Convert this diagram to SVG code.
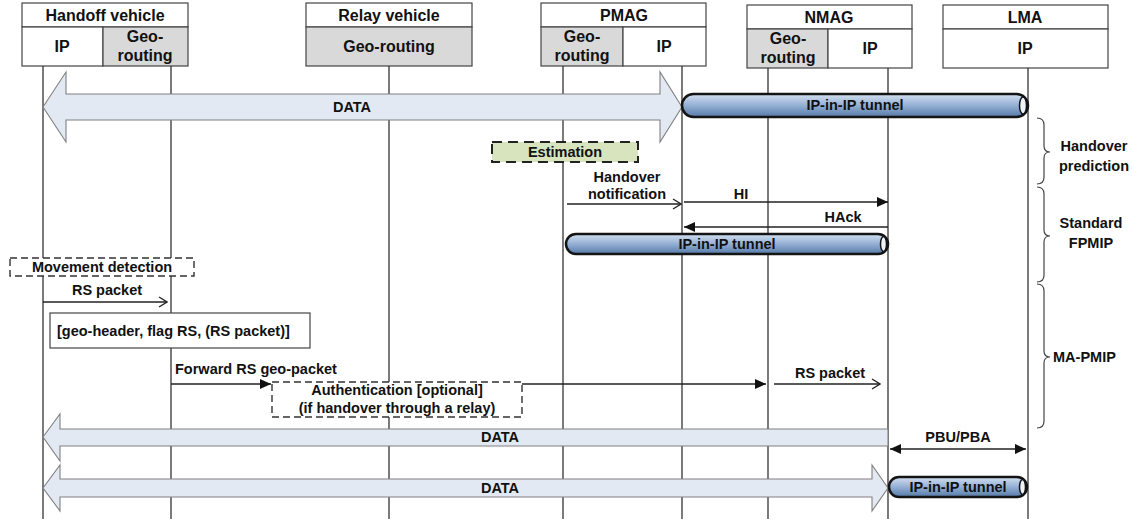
<svg xmlns="http://www.w3.org/2000/svg" width="1133" height="520" viewBox="0 0 1133 520">
  <style>
    text { font-family: "Liberation Sans", Arial, sans-serif; font-weight: bold; fill: #111; }
    .hd { font-size: 16px; text-anchor: middle; }
    .lb { font-size: 14.5px; }
    .c { text-anchor: middle; }
    .box { fill: #fff; stroke: #444; stroke-width: 1.2; }
    .geo { fill: #d9d9d9; stroke: #444; stroke-width: 1.2; }
    .life { stroke: #333; stroke-width: 1.3; fill: none; }
    .data { fill: #e3e9f3; stroke: #808080; stroke-width: 1.1; }
    .tunnel { fill: url(#tube); stroke: #141414; stroke-width: 2.5; }
    .tend { fill: #eef2f9; stroke: #141414; stroke-width: 1.5; }
    .msg { stroke: #222; stroke-width: 1.3; fill: none; }
    .dash { stroke: #333; stroke-width: 1.4; stroke-dasharray: 7 4; }
    .brace { stroke: #444; stroke-width: 1.2; fill: none; }
  </style>
  <defs>
    <linearGradient id="tube" x1="0" y1="0" x2="0" y2="1">
      <stop offset="0" stop-color="#d3e0f1"/>
      <stop offset="0.5" stop-color="#94afd4"/>
      <stop offset="1" stop-color="#557aa8"/>
    </linearGradient>
    <marker id="solid" markerUnits="userSpaceOnUse" markerWidth="12" markerHeight="10" refX="11" refY="5" orient="auto-start-reverse">
      <path d="M0,0 L11,5 L0,10 Z" fill="#111"/>
    </marker>
    <marker id="open" markerUnits="userSpaceOnUse" markerWidth="10" markerHeight="12" refX="9" refY="6" orient="auto">
      <path d="M1,1 L9,6 L1,11" fill="none" stroke="#222" stroke-width="1.3"/>
    </marker>
  </defs>

  <!-- entity headers -->
  <g id="handoff-vehicle">
    <rect class="box" x="22" y="3" width="166" height="24"/>
    <rect class="box" x="22" y="27" width="81" height="39"/>
    <rect class="geo" x="103" y="27" width="85" height="39"/>
    <text class="hd" x="105" y="21">Handoff vehicle</text>
    <text class="hd" x="62" y="52">IP</text>
    <text class="hd" x="145" y="42">Geo-</text>
    <text class="hd" x="145" y="61">routing</text>
  </g>
  <g id="relay-vehicle">
    <rect class="box" x="306" y="3" width="166" height="24"/>
    <rect class="geo" x="306" y="27" width="166" height="39"/>
    <text class="hd" x="389" y="21">Relay vehicle</text>
    <text class="hd" x="389" y="52">Geo-routing</text>
  </g>
  <g id="pmag">
    <rect class="box" x="541" y="3" width="165" height="24"/>
    <rect class="geo" x="541" y="27" width="82" height="39"/>
    <rect class="box" x="623" y="27" width="83" height="39"/>
    <text class="hd" x="624" y="21">PMAG</text>
    <text class="hd" x="582" y="42">Geo-</text>
    <text class="hd" x="582" y="61">routing</text>
    <text class="hd" x="664" y="52">IP</text>
  </g>
  <g id="nmag">
    <rect class="box" x="747" y="5" width="165" height="24"/>
    <rect class="geo" x="747" y="29" width="81" height="39"/>
    <rect class="box" x="828" y="29" width="84" height="39"/>
    <text class="hd" x="829" y="23">NMAG</text>
    <text class="hd" x="788" y="44">Geo-</text>
    <text class="hd" x="788" y="63">routing</text>
    <text class="hd" x="870" y="54">IP</text>
  </g>
  <g id="lma">
    <rect class="box" x="943" y="5" width="165" height="24"/>
    <rect class="box" x="943" y="29" width="165" height="39"/>
    <text class="hd" x="1025" y="23">LMA</text>
    <text class="hd" x="1025" y="54">IP</text>
  </g>

  <!-- lifelines -->
  <g id="lifelines">
    <line class="life" x1="43" y1="66" x2="43" y2="519"/>
    <line class="life" x1="171" y1="66" x2="171" y2="519"/>
    <line class="life" x1="389" y1="66" x2="389" y2="519"/>
    <line class="life" x1="563" y1="66" x2="563" y2="519"/>
    <line class="life" x1="682" y1="66" x2="682" y2="519"/>
    <line class="life" x1="768" y1="68" x2="768" y2="519"/>
    <line class="life" x1="888" y1="68" x2="888" y2="519"/>
    <line class="life" x1="1028" y1="68" x2="1028" y2="519"/>
  </g>

  <g id="connectors">
    <!-- data flows -->
    <path class="data" d="M43,107 L66,72 L66,94 L660,94 L660,72 L682,107 L660,142 L660,120 L66,120 L66,142 Z"/>
    <text class="lb c" x="352" y="112">DATA</text>

    <path class="data" d="M43,437 L60,414 L60,429 L888,429 L888,446 L60,446 L60,461 Z"/>
    <text class="lb c" x="500" y="442">DATA</text>

    <path class="data" d="M43,488 L60,465 L60,479 L872,479 L872,465 L888,488 L872,511 L872,497 L60,497 L60,511 Z"/>
    <text class="lb c" x="500" y="493">DATA</text>

    <!-- tunnels -->
    <rect class="tunnel" x="682" y="94" width="346" height="23" rx="11.5"/>
    <ellipse class="tend" cx="1023" cy="105.5" rx="3.5" ry="8.5"/>
    <text class="lb c" x="855" y="110">IP-in-IP tunnel</text>

    <rect class="tunnel" x="566" y="234" width="322" height="20" rx="10"/>
    <ellipse class="tend" cx="883.5" cy="244" rx="3" ry="7.5"/>
    <text class="lb c" x="727" y="249">IP-in-IP tunnel</text>

    <rect class="tunnel" x="889" y="477" width="138" height="20" rx="10"/>
    <ellipse class="tend" cx="1022.5" cy="487" rx="3" ry="7.5"/>
    <text class="lb c" x="958" y="492">IP-in-IP tunnel</text>

    <!-- handover prediction -->
    <rect x="492" y="142" width="146" height="20" fill="#d7e4bd" stroke="#222" stroke-width="2" stroke-dasharray="10 6"/>
    <text class="lb c" x="565" y="157">Estimation</text>

    <line class="msg" x1="567" y1="204" x2="681" y2="204" marker-end="url(#open)"/>
    <text class="lb c" x="627" y="182">Handover</text>
    <text class="lb c" x="627" y="199">notification</text>

    <line class="msg" x1="684" y1="202" x2="888" y2="202" marker-end="url(#solid)"/>
    <text class="lb c" x="741" y="199">HI</text>

    <line class="msg" x1="888" y1="227" x2="684" y2="227" marker-end="url(#solid)"/>
    <text class="lb c" x="843" y="222">HAck</text>

    <!-- movement detection and RS -->
    <rect x="10" y="258" width="184" height="18" fill="#fff" class="dash"/>
    <text class="lb c" x="102" y="272">Movement detection</text>

    <line class="msg" x1="43" y1="302" x2="167" y2="302" marker-end="url(#open)"/>
    <text class="lb c" x="107" y="295">RS packet</text>

    <rect class="box" x="50" y="313" width="260" height="35" stroke="#222"/>
    <text class="lb" x="57" y="336">[geo-header, flag RS, (RS packet)]</text>

    <line class="msg" x1="171" y1="384" x2="271" y2="384" marker-end="url(#solid)"/>
    <text class="lb" x="175" y="374">Forward RS geo-packet</text>

    <rect x="272" y="382" width="250" height="35" fill="#fff" class="dash"/>
    <text class="lb c" x="397" y="395">Authentication [optional]</text>
    <text class="lb c" x="397" y="413">(if handover through a relay)</text>

    <line class="msg" x1="522" y1="384" x2="766" y2="384" marker-end="url(#solid)"/>

    <line class="msg" x1="774" y1="384" x2="880" y2="384" marker-end="url(#open)"/>
    <text class="lb c" x="830" y="378">RS packet</text>

    <!-- binding -->
    <line class="msg" x1="890" y1="449" x2="1026" y2="449" marker-start="url(#solid)" marker-end="url(#solid)"/>
    <text class="lb c" x="958" y="442">PBU/PBA</text>
  </g>

  <!-- phase braces -->
  <g id="phase-prediction">
    <path class="brace" d="M1037,118 Q1044,118 1044,125 L1044,146 Q1044,152 1050,152 Q1044,152 1044,158 L1044,177 Q1044,184 1037,184"/>
    <text class="lb c" x="1094" y="151">Handover</text>
    <text class="lb c" x="1094" y="171">prediction</text>
  </g>
  <g id="phase-fpmip">
    <path class="brace" d="M1037,187 Q1044,187 1044,194 L1044,230 Q1044,236 1050,236 Q1044,236 1044,242 L1044,275 Q1044,282 1037,282"/>
    <text class="lb c" x="1091" y="228">Standard</text>
    <text class="lb c" x="1091" y="248">FPMIP</text>
  </g>
  <g id="phase-mapmip">
    <path class="brace" d="M1037,284 Q1044,284 1044,291 L1044,351 Q1044,357 1050,357 Q1044,357 1044,363 L1044,421 Q1044,428 1037,428"/>
    <text class="lb" x="1053" y="362">MA-PMIP</text>
  </g>
</svg>
